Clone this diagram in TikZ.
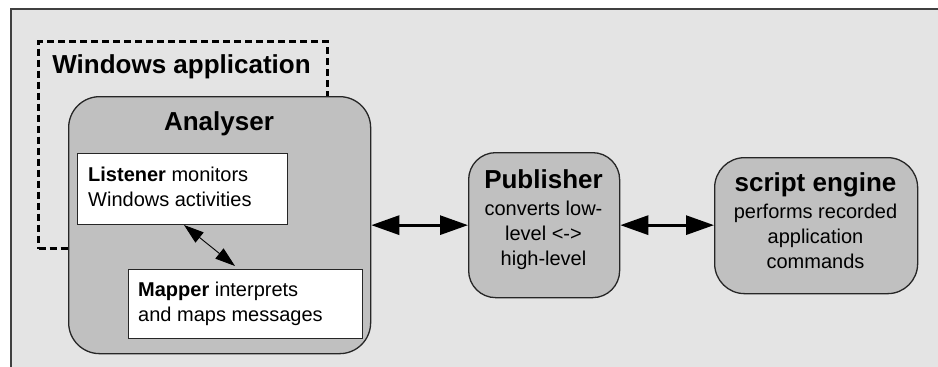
\documentclass[tikz,border=0pt]{standalone}
\usepackage{fontspec}
\setmainfont{Liberation Sans}
\usetikzlibrary{arrows.meta}

\definecolor{canvas}{HTML}{E4E4E4}
\definecolor{boxfill}{HTML}{C0C0C0}
\definecolor{edge}{HTML}{262626}
\definecolor{frameline}{HTML}{404040}

\newcommand{\headfont}{\fontsize{26}{28}\selectfont\bfseries}
\newcommand{\bodyfont}{\fontsize{20}{25}\selectfont}

\begin{document}
\begin{tikzpicture}[x=1pt,y=-1pt,
  roundbox/.style={draw=edge, line width=1.3pt, fill=boxfill, inner sep=0pt, anchor=north west},
  plainbox/.style={draw=edge, line width=1pt, fill=white, inner sep=0pt, anchor=north west},
  title/.style={anchor=base, inner sep=0pt, font=\headfont},
  bodytext/.style={inner sep=0pt},
  bigarrow/.style={line width=3pt,
    {Triangle[length=28pt,width=19pt]}-{Triangle[length=28pt,width=19pt]}},
  smallarrow/.style={line width=0.9pt,
    {Triangle[length=20pt,width=13pt]}-{Triangle[length=20pt,width=13pt]}},
]
\useasboundingbox (0,0) rectangle (938,367);

% canvas with its top and left frame lines
\fill[canvas] (11,9) rectangle (945,375);
\draw[frameline, line width=1.6pt] (945,9) -- (11,9) -- (11,375);

% dashed outline of the host application
\node[draw=black, line width=3pt, dash pattern=on 7pt off 4pt, inner sep=0pt,
      minimum width=289pt, minimum height=207pt, anchor=north west] (winapp) at (37,40) {};
\node[title] (winapptitle) at (181.5,73) {Windows application};

% analyser with its two parts
\node[roundbox, rounded corners=31pt, minimum width=302pt, minimum height=257pt] (analyser) at (68,96) {};
\node[title] (analysertitle) at (219,130) {Analyser};

\node[plainbox, minimum width=210pt, minimum height=71pt] (listener) at (77,153) {};
\node[bodytext, anchor=base west] (listenertext) at (88,181.7)
  {\parbox[t]{195pt}{\raggedright\bodyfont\textbf{Listener} monitors\\Windows activities}};

\node[plainbox, minimum width=234pt, minimum height=69pt] (mapper) at (128,269) {};
\node[bodytext, anchor=base west] (mappertext) at (138,296.7)
  {\parbox[t]{220pt}{\raggedright\bodyfont\textbf{Mapper} interprets\\and maps messages}};

% publisher and script engine
\node[roundbox, rounded corners=27pt, minimum width=151pt, minimum height=145pt] (publisher) at (468,152) {};
\node[bodytext, anchor=base] (publishertext) at (543.5,188.3)
  {\parbox[t]{150pt}{\centering{\headfont Publisher\par}\vspace{2pt}\bodyfont
   converts low-\\level <->\\high-level}};

\node[roundbox, rounded corners=30pt, minimum width=203pt, minimum height=136pt] (engine) at (714,157) {};
\node[bodytext, anchor=base] (enginetext) at (815.5,191.7)
  {\parbox[t]{200pt}{\centering{\headfont script engine\par}\vspace{2pt}\bodyfont
   performs recorded\\application\\commands}};

% connectors
\draw[smallarrow] ([xshift=107pt]listener.south west) -- ([xshift=107pt,yshift=3pt]mapper.north west);
\draw[bigarrow] (analyser.east) -- (publisher.west);
\draw[bigarrow] (publisher.east) -- (publisher.east -| engine.west);
\end{tikzpicture}
\end{document}
